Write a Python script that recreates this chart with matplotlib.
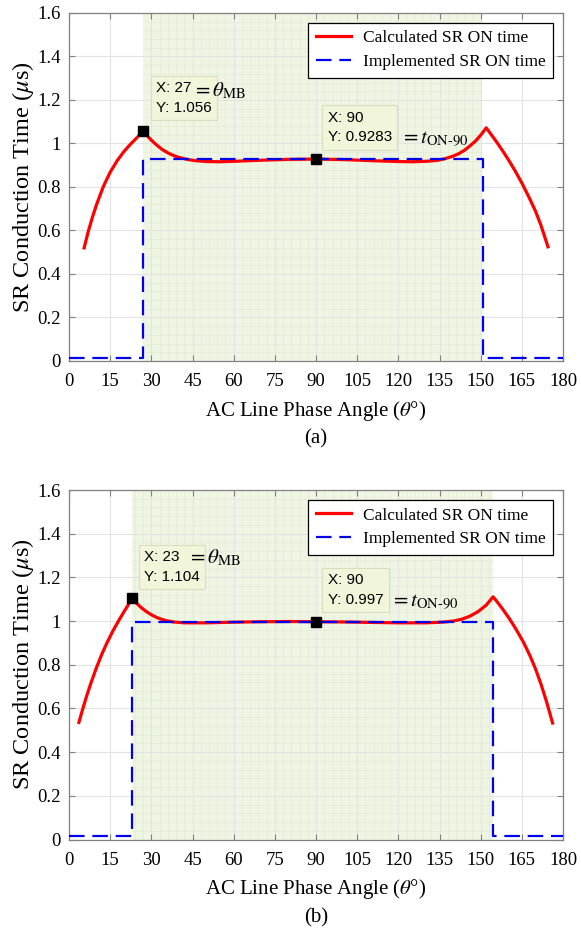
import matplotlib
matplotlib.use("Agg")
import matplotlib.pyplot as plt
import numpy as np

plt.rcParams["font.family"] = ["Liberation Serif", "DejaVu Serif"]
plt.rcParams["mathtext.fontset"] = "stix"

# ---- data (a) ----
a_theta = [5.5, 7, 8.5, 10, 12.5, 15, 17.5, 20, 22.5, 25, 27,
           28.5, 30, 32, 34, 36, 38, 40, 43, 46, 50, 55, 60, 70, 80, 90,
           100, 110, 120, 125, 130, 134, 137, 140, 142, 144, 146, 148, 150, 152,
           154, 156, 158, 160, 162.5, 165, 167.5, 170, 172, 174.5]
a_calc = [0.52, 0.595, 0.66, 0.718, 0.802, 0.868, 0.920, 0.963, 0.998, 1.03, 1.056,
          1.035, 1.015, 0.992, 0.972, 0.957, 0.945, 0.936, 0.927, 0.921, 0.917, 0.916, 0.918, 0.923, 0.927, 0.9283,
          0.926, 0.921, 0.917, 0.916, 0.918, 0.922, 0.93, 0.942, 0.953, 0.968, 0.988, 1.01, 1.038, 1.072,
          1.038, 1.003, 0.966, 0.927, 0.875, 0.818, 0.755, 0.688, 0.622, 0.525]
a_impl_theta = [0, 27, 27, 151, 151, 180]
a_impl = [0.015, 0.015, 0.9283, 0.9283, 0.015, 0.015]
a_shade = (27, 150.5)
a_tips = [(27, 1.056), (90, 0.9283)]

# ---- data (b) ----
b_theta = [3.6, 5, 6.5, 8, 10, 12, 14, 16, 18, 20, 21.5, 23,
           24.5, 26, 28, 30, 32, 35, 38, 42, 50, 60, 70, 80, 90,
           100, 110, 120, 130, 136, 140, 143, 146, 149, 152, 154.5,
           156, 158, 160.5, 163, 165.5, 168, 170, 172, 174, 176.2]
b_calc = [0.536, 0.598, 0.66, 0.717, 0.787, 0.85, 0.905, 0.955, 1.0, 1.042, 1.073, 1.104,
          1.083, 1.065, 1.045, 1.029, 1.016, 1.003, 0.996, 0.992, 0.992, 0.995, 0.997, 0.998, 0.997,
          0.996, 0.994, 0.992, 0.992, 0.995, 1.0, 1.008, 1.022, 1.043, 1.073, 1.111,
          1.088, 1.055, 1.01, 0.96, 0.905, 0.84, 0.78, 0.71, 0.63, 0.533]
b_impl_theta = [0, 23, 23, 154.5, 154.5, 180]
b_impl = [0.017, 0.017, 0.997, 0.997, 0.017, 0.017]
b_shade = (23, 154.5)
b_tips = [(23, 1.104), (90, 0.997)]

x_ticks = np.arange(0, 181, 15)
y_ticks = np.arange(0, 1.61, 0.2)

tip_bg = "#f1f5d9"
tip_edge = "#d9dec0"


def draw_panel(ax, theta, calc, impl_theta, impl, shade, tips):
    ax.axvspan(shade[0], shade[1], color="#eff5e3", zorder=0.2, lw=0)
    # fine grid inside shaded band
    for xv in np.arange(0, 181, 3):
        if shade[0] < xv < shade[1]:
            ax.vlines(xv, 0, 1.6, color="#e3ebd5", lw=0.5, zorder=0.3)
    for yv in np.arange(0, 1.601, 0.04):
        ax.hlines(yv, shade[0], shade[1], color="#e3ebd5", lw=0.5, zorder=0.3)

    ax.plot(theta, calc, color="#ff0000", lw=2.3, label="Calculated SR ON time", zorder=3)
    ax.plot(impl_theta, impl, color="#0000ee", lw=1.6, dashes=(7, 3.5),
            label="Implemented SR ON time", zorder=4)
    for tx, ty in tips:
        ax.plot(tx, ty, marker="s", ms=7.5, color="black", zorder=5)

    ax.set_xlim(0, 180)
    ax.set_ylim(0, 1.6)
    ax.set_xticks(x_ticks)
    ax.set_yticks(y_ticks)
    ax.set_yticklabels([f"{v:g}" for v in y_ticks])
    ax.set_axisbelow(True)
    ax.grid(True, color="#e3e3e3", lw=0.8, zorder=0.5)
    ax.tick_params(direction="in", top=True, right=True, length=4, width=0.8,
                   color="#808080", labelsize=13.5)
    ax.tick_params(axis="x", pad=9)
    ax.tick_params(axis="y", pad=6)
    for s in ax.spines.values():
        s.set_color("#808080")
        s.set_linewidth(0.9)
    ax.set_xlabel(r"AC Line Phase Angle ($\theta$°)", fontsize=15, labelpad=6)
    ax.set_ylabel(r"SR Conduction Time ($\mu$s)", fontsize=17.5, labelpad=1)
    leg = ax.legend(loc="upper right", fontsize=12.5, fancybox=False, framealpha=1,
                    edgecolor="black", handlelength=2.0, borderaxespad=0.55,
                    borderpad=0.45, labelspacing=0.45, handletextpad=0.7)
    leg.get_frame().set_linewidth(0.9)


def tip(ax, x, y, s, mx, my, ms):
    ax.text(x, y, s, fontfamily=["Liberation Sans", "DejaVu Sans"], fontsize=11,
            va="top", ha="left", linespacing=1.5, zorder=6,
            bbox=dict(boxstyle="square,pad=0.35", fc=tip_bg, ec=tip_edge, lw=0.8))
    ax.text(mx, my, ms, fontsize=15, va="baseline", ha="left", zorder=7)


fig = plt.figure(figsize=(5.81, 9.33), dpi=100)
ax1 = fig.add_axes([0.1188, 0.6131, 0.8503, 0.373])
ax2 = fig.add_axes([0.1188, 0.1002, 0.8503, 0.3746])

draw_panel(ax1, a_theta, a_calc, a_impl_theta, a_impl, a_shade, a_tips)
draw_panel(ax2, b_theta, b_calc, b_impl_theta, b_impl, b_shade, b_tips)

tip(ax1, 31.8, 1.285, "X: 27\nY: 1.056", 44.8, 1.218, r"$=\theta_{\mathrm{MB}}$")
tip(ax1, 94.3, 1.15, "X: 90\nY: 0.9283", 120.6, 1.003, r"$=t_{\mathrm{ON\text{-}90}}$")
tip(ax2, 27.3, 1.325, "X: 23\nY: 1.104", 42.9, 1.264, r"$=\theta_{\mathrm{MB}}$")
tip(ax2, 94.3, 1.22, "X: 90\nY: 0.997", 117.0, 1.071, r"$=t_{\mathrm{ON\text{-}90}}$")

fig.text(0.544, 0.5295, "(a)", fontsize=15, ha="center", va="center")
fig.text(0.544, 0.016, "(b)", fontsize=15, ha="center", va="center")

fig.savefig("out.png", dpi=100)
